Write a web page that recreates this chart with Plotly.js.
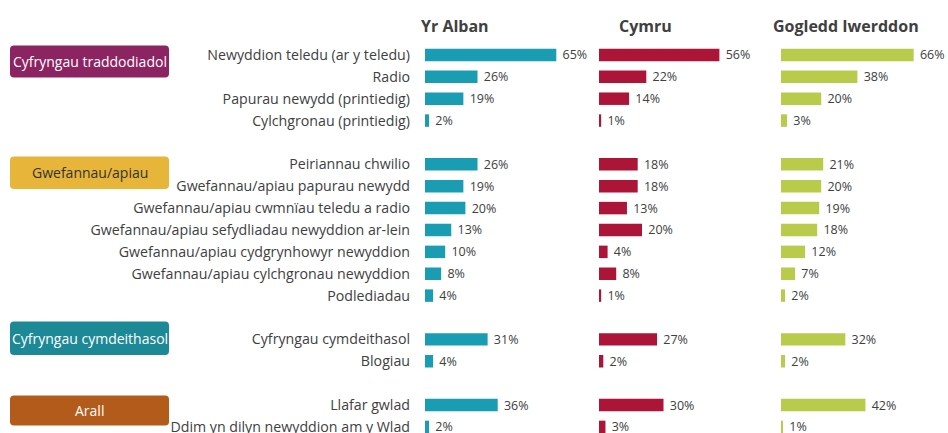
<!DOCTYPE html>
<html>
<head>
<meta charset="utf-8">
<script src="https://cdn.plot.ly/plotly-3.0.1.min.js"></script>
<style>html,body{margin:0;padding:0;background:#fff;}#chart{width:948px;height:433px;}</style>
</head>
<body>
<div id="chart"></div>
<script>
// ---------- DATA ----------
const groups = ['Cyfryngau traddodiadol', 'Gwefannau/apiau', 'Cyfryngau cymdeithasol', 'Arall'];
const categories = [
  'Newyddion teledu (ar y teledu)', 'Radio', 'Papurau newydd (printiedig)', 'Cylchgronau (printiedig)',
  'Peiriannau chwilio', 'Gwefannau/apiau papurau newydd', 'Gwefannau/apiau cwmnïau teledu a radio',
  'Gwefannau/apiau sefydliadau newyddion ar-lein', 'Gwefannau/apiau cydgrynhowyr newyddion',
  'Gwefannau/apiau cylchgronau newyddion', 'Podlediadau',
  'Cyfryngau cymdeithasol', 'Blogiau',
  'Llafar gwlad', 'Ddim yn dilyn newyddion am y Wlad'
];
const groupOf = [0,0,0,0, 1,1,1,1,1,1,1, 2,2, 3,3];
const nations = ['Yr Alban', 'Cymru', 'Gogledd Iwerddon'];
const alban   = [65,26,19,2, 26,19,20,13,10,8,4, 31,4, 36,2];
const cymru   = [56,22,14,1, 18,18,13,20,4,8,1, 27,2, 30,3];
const gogledd = [66,38,20,3, 21,20,19,18,12,7,2, 32,2, 42,1];

// ---------- STYLE / LAYOUT ----------
const W = 948, H = 433, T = 44, B = 0;
const X = px => px / W;
const Y = py => 1 - (py - T) / (H - T - B);
const slotPx = 21.88;
const slots = categories.map((c, i) => i + groupOf[i]);
const yBottom = -0.5 + (H - T - B) / slotPx;

const barColors = ['#1a9db3', '#ad1538', '#b8cb4b'];
const seriesVals = [alban, cymru, gogledd];
const panels = [
  {x0: 425, x1: 575, pxPer: 2.02},
  {x0: 599, x1: 762, pxPer: 2.15},
  {x0: 781, x1: 948, pxPer: 2.01}
];
const headerCenters = [455, 645, 846];
const boxColors = ['#8c2461', '#e6b53a', '#1d8996', '#b35b1a'];
const boxText = ['#ffffff', '#333333', '#ffffff', '#ffffff'];
const boxes = [[10, 45.5, 169, 77.5], [10, 156.5, 169, 189], [10, 321.5, 169, 355], [10, 395.5, 169, 425.5]];
const txtFont = 'Open Sans, sans-serif';
const gray = '#404040';

const traces = seriesVals.map((vals, k) => ({
  type: 'bar', orientation: 'h',
  x: vals, y: slots,
  xaxis: k === 0 ? 'x' : 'x' + (k + 1), yaxis: 'y',
  marker: {color: barColors[k]},
  width: 0.57,
  text: vals.map(v => '\u00a0' + v + '%'),
  texttemplate: '%{text}',
  textposition: 'outside',
  constraintext: 'none',
  cliponaxis: false,
  outsidetextfont: {family: txtFont, size: 12.5, color: gray},
  hoverinfo: 'skip', showlegend: false, name: nations[k]
}));

function rr(x0, y0, x1, y1, r) {
  const p = (a, b) => X(a) + ',' + Y(b);
  return 'M' + p(x0 + r, y0) + ' L' + p(x1 - r, y0) + ' Q' + p(x1, y0) + ' ' + p(x1, y0 + r) +
    ' L' + p(x1, y1 - r) + ' Q' + p(x1, y1) + ' ' + p(x1 - r, y1) +
    ' L' + p(x0 + r, y1) + ' Q' + p(x0, y1) + ' ' + p(x0, y1 - r) +
    ' L' + p(x0, y0 + r) + ' Q' + p(x0, y0) + ' ' + p(x0 + r, y0) + ' Z';
}

const shapes = boxes.map((b, i) => ({
  type: 'path', xref: 'paper', yref: 'paper', path: rr(b[0], b[1], b[2], b[3], 4),
  fillcolor: boxColors[i], line: {width: 0}, layer: 'above'
}));

const annotations = [];
boxes.forEach((b, i) => annotations.push({
  xref: 'paper', yref: 'paper', x: X((b[0] + b[2]) / 2), y: Y((b[1] + b[3]) / 2),
  text: groups[i], showarrow: false, xanchor: 'center', yanchor: 'middle',
  font: {family: txtFont, size: 14, color: boxText[i]}
}));
nations.forEach((n, k) => annotations.push({
  xref: 'paper', yref: 'paper', x: X(headerCenters[k]), y: Y(26),
  text: '<b>' + n + '</b>', showarrow: false, xanchor: 'center', yanchor: 'middle',
  font: {family: txtFont, size: 16, color: gray}
}));

const layout = {
  width: W, height: H,
  margin: {l: 0, r: 0, t: T, b: B, pad: 0},
  paper_bgcolor: '#ffffff', plot_bgcolor: 'rgba(0,0,0,0)',
  yaxis: {
    range: [yBottom, -0.5], tickvals: slots, ticktext: categories,
    ticks: '', ticklabelstandoff: 14, ticklabeloverflow: 'allow',
    showgrid: false, zeroline: false, showline: false,
    tickfont: {family: txtFont, size: 14.2, color: gray}, anchor: 'x', fixedrange: true
  },
  shapes: shapes, annotations: annotations
};
panels.forEach((p, k) => {
  const key = k === 0 ? 'xaxis' : 'xaxis' + (k + 1);
  layout[key] = {
    domain: [X(p.x0), X(p.x1)], range: [0, (p.x1 - p.x0) / p.pxPer],
    anchor: 'y', showgrid: false, zeroline: false, showline: false, showticklabels: false, ticks: '', fixedrange: true
  };
});

Plotly.newPlot('chart', traces, layout, {displayModeBar: false, staticPlot: true});
</script>
</body>
</html>
